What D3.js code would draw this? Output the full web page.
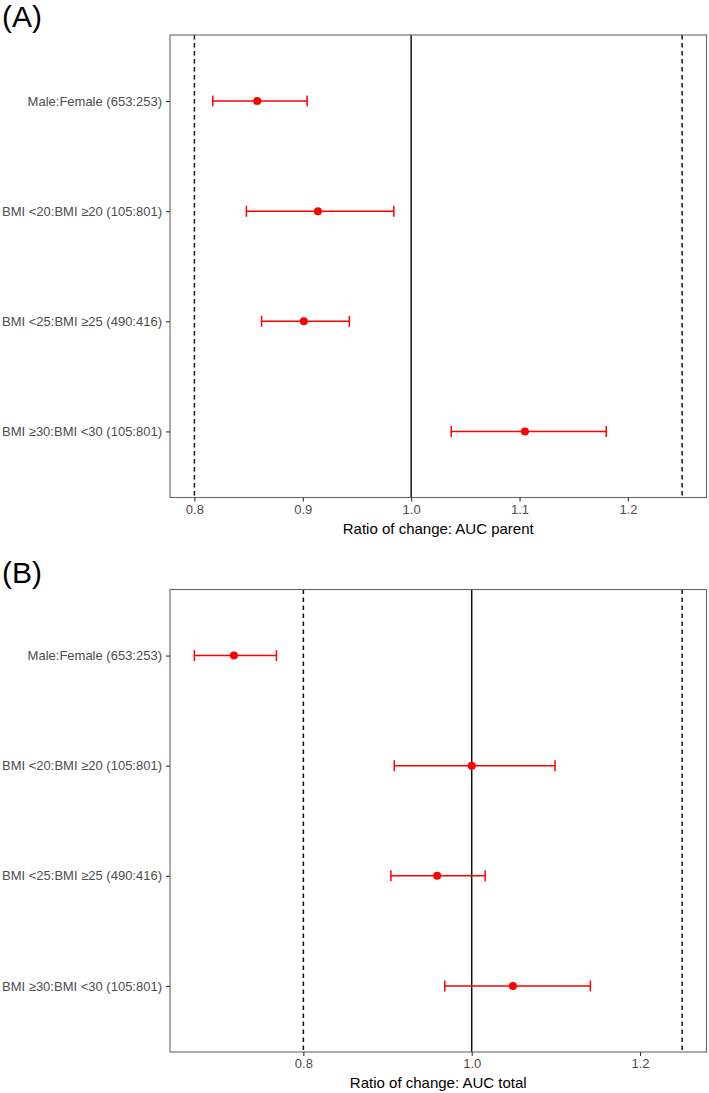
<!DOCTYPE html>
<html><head><meta charset="utf-8">
<script src="https://cdn.jsdelivr.net/npm/d3@7"></script>
<style>body{margin:0;background:#fff}svg{display:block}text{font-family:"Liberation Sans",Arial,Helvetica,sans-serif}</style>
</head><body><svg id="c" width="709" height="1093"></svg>
<script>
const categories = ["Male:Female (653:253)","BMI <20:BMI \u226520 (105:801)","BMI <25:BMI \u226525 (490:416)","BMI \u226530:BMI <30 (105:801)"];
const parentEst = [0.858, 0.914, 0.901, 1.105];
const parentLo  = [0.817, 0.848, 0.862, 1.037];
const parentHi  = [0.904, 0.984, 0.943, 1.180];
const totalEst = [0.7175, 1.000, 0.959, 1.049];
const totalLo  = [0.6705, 0.908, 0.904, 0.968];
const totalHi  = [0.768, 1.099, 1.016, 1.141];
const refLines = [0.8, 1.0, 1.25];
const ticksA = [0.8, 0.9, 1.0, 1.1, 1.2];
const ticksB = [0.8, 1.0, 1.2];
const panels = [
  {label:"(A)", title:"Ratio of change: AUC parent", est:parentEst, lo:parentLo, hi:parentHi, ticks:ticksA, fmt:d3.format(".1f"), top:35, bottom:497.5, labelY:27},
  {label:"(B)", title:"Ratio of change: AUC total", est:totalEst, lo:totalLo, hi:totalHi, ticks:ticksB, fmt:d3.format(".1f"), top:589.5, bottom:1052, labelY:583}
];
const L = 170, R = 706.5;
const svg = d3.select("#c");
panels.forEach(p => {
  const g = svg.append("g");
  const mn = d3.min(p.lo.concat(refLines)), mx = d3.max(p.hi.concat(refLines));
  const pad = (mx - mn) * 0.05;
  const x = d3.scaleLinear().domain([mn - pad, mx + pad]).range([L, R]);
  const y = d3.scalePoint().domain(categories).range([p.top, p.bottom]).padding(0.6);
  g.append("text").attr("x", 2).attr("y", p.labelY).attr("font-size", 30).attr("fill", "#000").text(p.label);
  g.selectAll(".ref").data(refLines).enter().append("line")
    .attr("x1", d => x(d)).attr("x2", d => x(d)).attr("y1", p.top).attr("y2", p.bottom)
    .attr("stroke", "#111").attr("stroke-width", 1.5)
    .attr("stroke-dasharray", d => d === 1 ? null : "4.5,3.5");
  const idx = d3.range(categories.length);
  g.selectAll(".eb").data(idx).enter().append("line")
    .attr("x1", i => x(p.lo[i])).attr("x2", i => x(p.hi[i]))
    .attr("y1", i => y(categories[i])).attr("y2", i => y(categories[i]))
    .attr("stroke", "#ff0000").attr("stroke-width", 1.5);
  ["lo","hi"].forEach(k => {
    g.selectAll(".cap"+k).data(idx).enter().append("line")
      .attr("x1", i => x(p[k][i])).attr("x2", i => x(p[k][i]))
      .attr("y1", i => y(categories[i]) - 5.5).attr("y2", i => y(categories[i]) + 5.5)
      .attr("stroke", "#ff0000").attr("stroke-width", 1.5);
  });
  g.selectAll(".pt").data(idx).enter().append("circle")
    .attr("cx", i => x(p.est[i])).attr("cy", i => y(categories[i])).attr("r", 4)
    .attr("fill", "#ff0000");
  g.append("rect").attr("x", L).attr("y", p.top).attr("width", R - L).attr("height", p.bottom - p.top)
    .attr("fill", "none").attr("stroke", "#666").attr("stroke-width", 1.1);
  const ax = g.append("g").attr("transform", `translate(0,${p.bottom})`)
    .call(d3.axisBottom(x).tickValues(p.ticks).tickFormat(p.fmt).tickSize(4).tickSizeOuter(0).tickPadding(3));
  ax.select(".domain").remove();
  ax.selectAll("line").attr("stroke", "#333").attr("stroke-width", 1.1);
  ax.selectAll("text").attr("font-size", 13).attr("fill", "#4d4d4d").attr("font-family", "Liberation Sans, Arial, sans-serif");
  const ay = g.append("g").attr("transform", `translate(${L},0)`)
    .call(d3.axisLeft(y).tickSize(4).tickSizeOuter(0).tickPadding(4));
  ay.select(".domain").remove();
  ay.selectAll("line").attr("stroke", "#333").attr("stroke-width", 1.1);
  ay.selectAll("text").attr("font-size", 13).attr("fill", "#4d4d4d").attr("font-family", "Liberation Sans, Arial, sans-serif");
  g.append("text").attr("x", (L + R) / 2).attr("y", p.bottom + 36).attr("text-anchor", "middle")
    .attr("font-size", 15).attr("fill", "#000").text(p.title);
});
</script></body></html>
